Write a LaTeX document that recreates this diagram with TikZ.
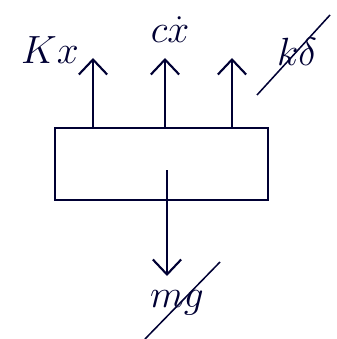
\documentclass[tikz,border=0pt]{standalone}
\usepackage{amsmath}
\usepackage{tikz}
\usetikzlibrary{arrows.meta, positioning, calc}

\begin{document}
\begin{tikzpicture}[
  x=0.03cm, y=-0.03cm,
  ink/.style={draw=black!75!blue!80!black, line width=1.8pt},
  force/.style={ink, -{Straight Barb[length=4.5mm, width=8.5mm, line width=1.8pt]}},
  body/.style={ink, rectangle, minimum width=6.39cm, minimum height=2.16cm, inner sep=0pt},
  force_label/.style={inner sep=0pt, font=\Huge, scale=1.35, text=black!75!blue!80!black},
  strike/.style={ink, line width=1.3pt}
]
  \useasboundingbox (0,0) rectangle (336,339);

  % Mass block
  \node[body] (block) at (161.5,164) {};

  % Upward forces
  \coordinate (kx_tip) at (93,58);
  \coordinate (cx_tip) at (165,58);
  \coordinate (kd_tip) at (232,58);
  \draw[force] (block.north -| kx_tip) -- (kx_tip);
  \draw[force] (block.north -| cx_tip) -- (cx_tip);
  \draw[force] (block.north -| kd_tip) -- (kd_tip);

  \node[force_label] (kx) at (50,50) {$Kx$};
  \node[force_label] (cx) at (170,30) {$c\dot{x}$};
  \node[force_label] (kd) at (297,52) {$k\delta$};
  \draw[strike] ($(kd.center)+(-40,43)$) -- ($(kd.center)+(33,-37)$);

  % Weight
  \coordinate (mg_start) at (167,170);
  \coordinate (mg_tip) at (167,276);
  \draw[force] (mg_start) -- (mg_tip);
  \node[force_label] (mg) at (177,303) {$mg$};
  \draw[strike] ($(mg.center)+(-32,36)$) -- ($(mg.center)+(43,-41)$);

\end{tikzpicture}
\end{document}
